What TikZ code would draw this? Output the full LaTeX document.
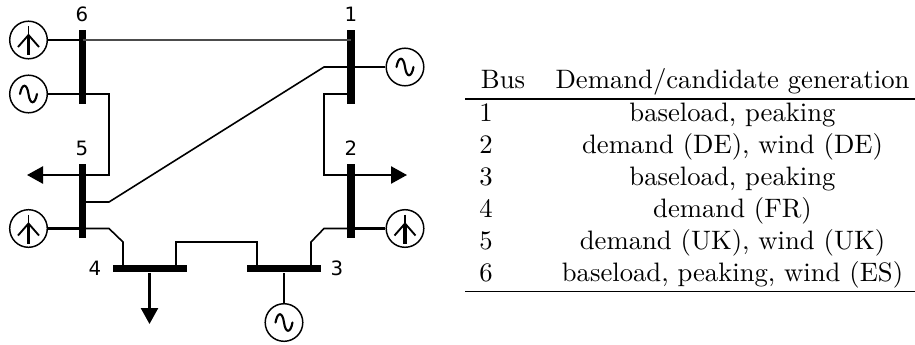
\documentclass[tikz,border=0pt]{standalone}
\usepackage{fontspec}
\newfontfamily\labelfont{DejaVu Sans}
\usetikzlibrary{arrows.meta}
\tikzset{
  vbus/.style={fill=black,inner sep=0pt,minimum width=2.7pt,minimum height=27.75pt},
  hbus/.style={fill=black,inner sep=0pt,minimum width=27.75pt,minimum height=2.7pt},
  src/.style={circle,draw=black,line width=0.55pt,fill=white,inner sep=0pt,minimum size=14.1pt},
  feed/.style={line width=0.85pt},
  tline/.style={line width=0.6pt},
  thinline/.style={line width=0.4pt,black!70},
  load/.style={line width=0.85pt,-{Triangle[length=6pt,width=6.4pt]},shorten >=0pt},
  busnum/.style={font=\labelfont\fontsize{7.4}{9}\selectfont,inner sep=0pt},
  tab/.style={anchor=base,inner sep=0pt},
  rulea/.style={line width=0.6pt},
  wind/.pic={
    \draw[line width=0.45pt] (0,-14) -- (0,-5);
    \draw[line width=1.15pt] (0,-5) -- (0,15);
    \draw[line width=0.7pt] (-10.5,7) -- (0,-5) -- (10.5,7);
  },
  gen/.pic={
    \draw[line width=0.8pt,line cap=round] (-8.5,0) .. controls (-6.5,-11) and (-1.5,-11) .. (0,0) .. controls (1.5,11) and (6.5,11) .. (8.5,0);
  }
}
\begin{document}
\begin{tikzpicture}[x=0.375pt,y=-0.375pt]
\useasboundingbox (0,0) rectangle (915,344);
% buses
\node[vbus] (b6) at (82.5,67) {};
\node[vbus] (b5) at (82.5,201) {};
\node[vbus] (b1) at (351,67) {};
\node[vbus] (b2) at (351,201) {};
\node[hbus] (b4) at (149.5,268.5) {};
\node[hbus] (b3) at (284,268.5) {};
% bus numbers
\node[busnum] (n6) at (82,14) {6};
\node[busnum] (n5) at (82,148) {5};
\node[busnum] (n1) at (351,14) {1};
\node[busnum] (n2) at (351,148) {2};
\node[busnum] (n4) at (95,268) {4};
\node[busnum] (n3) at (337,268) {3};
% sources
\node[src] (w6) at (28.5,40) {};
\node[src] (g6) at (28.5,94) {};
\node[src] (w5) at (28.5,228.5) {};
\node[src] (w2) at (405,228.5) {};
\node[src] (g1) at (405,67) {};
\node[src] (g3) at (284,322.5) {};
\pic at (w6) {wind};
\pic at (w5) {wind};
\pic at (w2) {wind};
\pic at (g6) {gen};
\pic at (g1) {gen};
\pic at (g3) {gen};
% feeders
\draw[feed] (w6) -- (w6 -| b6);
\draw[feed] (g6) -- (g6 -| b6);
\draw[feed] (w5) -- (w5 -| b5);
\draw[feed] (w2) -- (w2 -| b2);
\draw[feed] (g1) -- (g1 -| b1);
\draw[feed] (g3) -- (b3);
% lines
\coordinate (a61) at (82.5,40);
\coordinate (b61) at (351,40);
\draw[thinline] (a61) -- (b61);
\coordinate (k65) at (109,94);
\coordinate (m65) at (109,175);
\draw[tline] (k65 -| b6) -- (k65) -- (m65) -- (m65 -| b5);
\coordinate (k51) at (109,202);
\coordinate (m51) at (324,67);
\draw[tline] (k51 -| b5) -- (k51) -- (m51) -- (m51 -| b1);
\coordinate (k12) at (324,94);
\coordinate (m12) at (324,175);
\draw[tline] (k12 -| b1) -- (k12) -- (m12) -- (m12 -| b2);
\coordinate (k54) at (109,228.5);
\coordinate (m54) at (123,242);
\draw[tline] (k54 -| b5) -- (k54) -- (m54) -- (m54 |- b4);
\coordinate (k43) at (176,242);
\coordinate (m43) at (257,242);
\draw[tline] (k43 |- b4) -- (k43) -- (m43) -- (m43 |- b3);
\coordinate (k32) at (311,242);
\coordinate (m32) at (324,228.5);
\draw[tline] (k32 |- b3) -- (k32) -- (m32) -- (m32 -| b2);
% loads
\coordinate (l5) at (27,175);
\coordinate (l2) at (407,175);
\coordinate (l4) at (149.5,324);
\draw[load] (l5 -| b5) -- (l5);
\draw[load] (l2 -| b2) -- (l2);
\draw[load] (b4) -- (l4);
% table
\coordinate (rl1) at (465,99);
\coordinate (rr1) at (915,99);
\coordinate (rl2) at (465,291.5);
\coordinate (rr2) at (915,291.5);
\draw[rulea] (rl1) -- (rr1);
\draw[rulea] (rl2) -- (rr2);
\node[tab] (hb) at (503,88) {Bus};
\node[tab] (hd) at (732.5,88) {Demand/candidate generation};
\node[tab] (r1) at (486,121) {1};
\node[tab] (d1) at (732.5,121) {baseload, peaking};
\node[tab] (r2) at (486,153) {2};
\node[tab] (d2) at (732.5,153) {demand (DE), wind (DE)};
\node[tab] (r3) at (486,185) {3};
\node[tab] (d3) at (732.5,185) {baseload, peaking};
\node[tab] (r4) at (486,217) {4};
\node[tab] (d4) at (732.5,217) {demand (FR)};
\node[tab] (r5) at (486,249) {5};
\node[tab] (d5) at (732.5,249) {demand (UK), wind (UK)};
\node[tab] (r6) at (486,281) {6};
\node[tab] (d6) at (732.5,281) {baseload, peaking, wind (ES)};
\end{tikzpicture}
\end{document}
